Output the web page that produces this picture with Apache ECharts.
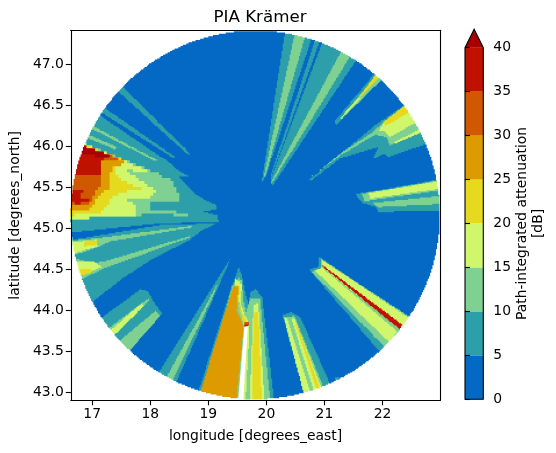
<!DOCTYPE html>
<html>
<head>
<meta charset="utf-8">
<style>html,body{margin:0;background:#fff}#main{width:556px;height:453px}</style>
<script src="https://cdn.jsdelivr.net/npm/echarts@6/dist/echarts.min.js"></script>
</head>
<body>
<div id="main"></div>
<script>
// radar coverage, degrees
const radarLon = 19.808, radarLat = 45.162
const radiusLon = 3.18, radiusLat = 2.245

const lonTicks = [17,18,19,20,21,22]
const latTicks = [43,43.5,44,44.5,45,45.5,46,46.5,47]
const levels = [0,5,10,15,20,25,30,35,40]

// outlines of the attenuation areas, [lon,lat], each level painted over the one before
const pia5 = [
  [[17.34,46.74],[17.42,46.79],[18.70,45.90],[18.66,45.89]],
  [[17.07,46.54],[17.01,46.48],[18.40,45.85],[18.43,45.87]],
  [[16.94,46.47],[18.17,45.87],[18.30,45.82],[18.43,45.73],[18.66,45.63],[18.49,45.63],[18.75,45.43],[18.92,45.35],[19.15,45.28],[19.15,45.23],[18.92,45.20],[19.15,45.16],[19.18,45.08],[18.17,45.06],[16.80,44.96],[16.45,44.93],[16.45,46.20]],
  [[16.45,44.86],[16.66,44.86],[18.17,45.04],[19.15,45.06],[18.86,44.96],[18.69,44.86],[18.00,44.61],[17.49,44.37],[17.06,44.13],[16.63,43.88],[16.45,43.88]],
  [[17.06,43.86],[17.83,44.26],[17.96,44.23],[18.09,44.07],[18.20,43.96],[17.62,43.49],[16.97,43.58]],
  [[19.37,44.62],[19.34,44.55],[18.43,43.09],[18.11,43.21]],
  [[19.52,44.53],[19.58,44.42],[19.64,44.19],[19.69,44.07],[19.72,44.21],[19.81,44.27],[19.93,44.15],[20.14,42.87],[18.79,42.93],[19.41,44.31],[19.46,44.40]],
  [[20.28,43.94],[20.41,43.98],[20.58,43.92],[21.13,43.05],[20.69,42.91]],
  [[21.18,43.19],[21.25,43.19],[21.30,43.09],[21.20,43.09]],
  [[20.91,44.65],[20.96,44.63],[22.47,43.89],[21.99,43.48],[21.89,43.55],[20.74,44.50],[20.89,44.53]],
  [[20.74,45.59],[21.87,46.26],[22.39,46.51],[22.56,46.56],[22.94,46.07],[22.10,45.87],[22.04,45.91],[21.83,45.84],[21.93,45.99],[21.27,45.85],[20.77,45.58]],
  [[21.18,46.31],[21.91,46.93],[22.04,46.85],[21.20,46.26]],
  [[21.53,45.42],[21.75,45.44],[23.08,45.61],[23.08,45.21],[21.93,45.20],[21.89,45.26],[21.65,45.31]],
  [[20.33,47.44],[20.81,47.37],[19.98,45.61],[19.92,45.57]],
  [[20.86,47.34],[20.94,47.32],[20.08,45.61],[20.07,45.64]],
  [[20.99,47.32],[21.61,47.11],[20.10,45.51],[20.07,45.59]]
]
const pia10 = [
  [[16.89,46.29],[18.11,45.83],[18.08,45.82],[16.87,46.26]],
  [[16.80,46.18],[17.42,45.99],[17.40,45.96],[16.78,46.14]],
  [[16.73,46.07],[17.60,45.81],[18.00,45.70],[18.40,45.57],[18.45,45.47],[18.52,45.38],[18.49,45.31],[18.03,45.31],[17.99,45.22],[18.43,45.20],[18.78,45.13],[18.35,45.17],[17.75,45.16],[17.06,45.13],[16.45,45.10],[16.45,45.95]],
  [[16.45,44.83],[16.66,44.85],[17.09,44.88],[18.72,45.03],[18.72,45.01],[17.31,44.84],[17.14,44.78],[16.68,44.67],[16.45,44.64]],
  [[16.49,44.64],[16.71,44.63],[16.97,44.58],[17.17,44.59],[18.69,44.91],[18.68,44.89],[17.17,44.50],[16.86,44.39],[16.54,44.31]],
  [[17.42,43.60],[18.09,44.00],[18.17,43.93],[17.61,43.48]],
  [[17.23,43.76],[17.97,44.15],[17.99,44.12],[17.31,43.68]],
  [[19.17,44.34],[19.16,44.30],[18.35,43.09],[18.24,43.14]],
  [[19.52,44.40],[19.58,44.35],[19.60,44.13],[19.65,43.98],[19.72,44.15],[19.89,44.15],[20.07,42.87],[18.88,42.87],[19.41,44.30]],
  [[20.30,43.92],[20.48,43.93],[21.00,43.03],[20.67,42.93]],
  [[20.94,44.62],[22.46,43.92],[22.06,43.54],[20.78,44.47],[20.93,44.52]],
  [[20.78,45.63],[21.27,45.91],[21.84,46.18],[21.99,46.28],[22.47,46.51],[22.78,46.20],[22.13,46.01],[22.07,46.11],[21.87,46.14],[21.27,45.88]],
  [[21.27,46.34],[21.94,46.90],[22.03,46.84],[21.31,46.34]],
  [[21.64,45.42],[21.75,45.43],[23.08,45.60],[23.08,45.47],[21.79,45.34],[21.70,45.32]],
  [[21.84,45.31],[23.08,45.40],[23.08,45.30],[21.92,45.26]],
  [[20.50,47.41],[20.69,47.39],[19.98,45.63],[19.95,45.62]],
  [[21.32,47.20],[21.48,47.13],[20.10,45.55],[20.08,45.57]]
]
const pia15 = [
  [[16.73,46.07],[17.63,45.79],[17.99,45.69],[17.95,45.67],[17.54,45.73],[17.80,45.59],[18.12,45.45],[18.06,45.38],[17.60,45.34],[17.77,45.26],[17.75,45.16],[17.06,45.13],[16.45,45.10],[16.45,45.95]],
  [[16.45,44.82],[16.67,44.83],[17.07,44.86],[17.09,44.78],[16.71,44.70],[16.45,44.66]],
  [[16.49,44.59],[17.03,44.59],[17.17,44.53],[16.83,44.43],[16.49,44.37]],
  [[17.25,43.72],[17.85,44.09],[17.89,44.05],[17.37,43.69]],
  [[19.46,44.39],[19.58,44.31],[19.55,44.09],[19.64,43.92],[19.69,43.86],[19.71,43.80],[19.64,42.87],[19.55,42.87],[19.64,43.81],[19.45,44.32]],
  [[19.78,44.07],[19.86,44.09],[19.97,42.87],[19.71,42.87],[19.76,43.76]],
  [[20.31,43.90],[20.36,43.90],[20.77,42.97],[20.67,42.93]],
  [[20.43,43.91],[20.48,43.91],[20.96,43.03],[20.82,43.01]],
  [[20.84,44.49],[20.96,44.52],[22.25,43.74],[22.12,43.61]],
  [[20.96,44.61],[22.46,43.90],[22.32,43.76],[20.96,44.53]],
  [[21.93,46.18],[22.01,46.28],[22.51,46.49],[22.66,46.32],[22.13,46.11],[22.04,46.18]],
  [[22.19,46.05],[22.73,46.24],[22.73,46.19],[22.22,46.03]],
  [[21.27,46.34],[21.59,46.60],[21.62,46.58],[21.30,46.34]],
  [[21.76,45.43],[23.08,45.59],[23.08,45.49],[21.79,45.36]]
]
const pia20 = [
  [[16.76,46.04],[17.56,45.82],[17.40,45.73],[17.43,45.61],[17.63,45.55],[17.85,45.47],[17.63,45.45],[17.34,45.38],[17.26,45.26],[17.11,45.18],[16.66,45.16],[16.45,45.16],[16.45,45.95]],
  [[16.85,44.84],[17.07,44.86],[17.09,44.80],[16.87,44.78]],
  [[16.80,44.50],[17.00,44.51],[16.97,44.46],[16.83,44.42],[16.63,44.41]],
  [[19.46,44.31],[19.54,44.30],[19.52,44.09],[19.62,43.91],[19.66,43.86],[19.62,43.79],[19.50,44.13]],
  [[19.78,43.97],[19.86,43.98],[19.92,42.87],[19.75,42.87]],
  [[20.50,43.84],[20.52,43.84],[20.92,43.05],[20.87,43.03]],
  [[22.02,46.30],[22.44,46.53],[22.51,46.43],[22.04,46.24]],
  [[21.59,46.60],[21.91,46.90],[21.99,46.87],[21.64,46.60]]
]
const pia25 = [
  [[16.78,46.01],[17.60,45.79],[17.37,45.75],[17.31,45.63],[17.30,45.49],[17.09,45.37],[17.02,45.26],[16.94,45.21],[16.64,45.20],[16.45,45.20],[16.45,45.95]],
  [[19.43,44.30],[19.52,44.29],[19.49,44.00],[19.61,43.80],[19.48,42.87],[18.80,42.87]]
]
const pia30 = [
  [[16.80,46.00],[17.31,45.89],[17.49,45.83],[17.16,45.83],[17.17,45.65],[17.14,45.53],[17.03,45.41],[16.97,45.31],[16.76,45.28],[16.45,45.28],[16.45,45.71]],
  [[19.63,43.86],[19.70,43.86],[19.70,43.83],[19.63,43.83]]
]
const pia35 = [
  [[16.80,46.00],[17.31,45.87],[17.16,45.83],[17.16,45.65],[16.97,45.63],[16.71,45.65],[16.45,45.65]],
  [[16.45,45.47],[16.85,45.46],[16.80,45.38],[16.97,45.33],[16.80,45.30],[16.45,45.32]],
  [[19.63,43.83],[19.70,43.83],[19.70,43.82],[19.67,43.80],[19.63,43.80]],
  [[20.96,44.55],[22.34,43.82],[22.30,43.77],[20.98,44.53]]
]
const pia40 = [
  [[16.80,46.01],[17.11,45.94],[17.35,45.85],[17.09,45.88],[16.76,45.91],[16.63,45.95]]
]
// beam with no data, south of the radar
const noData = [
  [[19.62,43.80],[19.68,43.81],[19.60,42.87],[19.51,42.87]]
]

const classes = [pia5,pia10,pia15,pia20,pia25,pia30,pia35,pia40]
const colors = ['#0369C4','#2C9FAB','#7ED190','#D0F66C','#E6DA1E','#DE9B00','#D05800','#C01000','#A80000']
const black = '#000'
const fontName = 'DejaVu Sans'

const xMin = 16.632, xMax = 22.995, yMin = 42.905, yMax = 47.412

// the storm in the north-west sits on bigger radar cells
const coarse = [pia10[2],pia15[0],pia20[0],pia25[0],pia30[0],pia35[0],pia35[1],pia40[0]]

// outline snapped to the radar grid, so edges come out as steps
function stepped(ring,dx,dy){
  var pts = [], last = null
  ring.forEach((a,i)=>{
    var b = ring[(i+1)%ring.length]
    var n = Math.ceil(Math.max(Math.abs(b[0]-a[0])/dx,Math.abs(b[1]-a[1])/dy))*2
    for(var j=0;j<n;j++){
      var lon = Math.round((a[0]+(b[0]-a[0])*j/n)/dx)*dx
      var lat = Math.round((a[1]+(b[1]-a[1])*j/n)/dy)*dy
      if(last && last[0]!=lon && last[1]!=lat) pts.push([lon,last[1]])
      pts.push([lon,lat])
      last = [lon,lat]
    }
  })
  return pts
}

// white outside the radar circle
function outsideMask(){
  var circle = []
  for(var i=0;i<720;i++){
    var a = -i/720*Math.PI*2
    circle.push([radarLon+radiusLon*Math.cos(a),radarLat+radiusLat*Math.sin(a)])
  }
  var inner = stepped(circle,0.02,0.015)
  var outer = [[xMin-1,inner[0][1]],[xMin-1,yMin-1],[xMax+1,yMin-1],[xMax+1,yMax+1],[xMin-1,yMax+1],[xMin-1,inner[0][1]]]
  return outer.concat(inner,[inner[0]])
}

var shapes = [{ring:[[xMin-1,yMin-1],[xMax+1,yMin-1],[xMax+1,yMax+1],[xMin-1,yMax+1]],fill:colors[0]}]
classes.forEach((list,i)=>{
  list.forEach((ring)=>{
    var r = coarse.indexOf(ring)>=0 ? stepped(ring,0.05,0.036) : stepped(ring,0.02,0.015)
    shapes.push({ring:r,fill:colors[i+1]})
  })
})
noData.forEach((ring)=>{ shapes.push({ring:ring,fill:'#fff'}) })
shapes.push({ring:outsideMask(),fill:'#fff'})

var tickStyle = {show:true,length:5,lineStyle:{color:black,width:1.1}}
var labelStyle = {color:black,fontFamily:fontName,fontSize:13.9}
var nameStyle = {color:black,fontFamily:fontName,fontSize:13.9}
var lineStyle = {show:true,lineStyle:{color:black,width:1.1}}

var chart = echarts.init(document.getElementById('main'),null,{renderer:'canvas'})
chart.setOption({
  animation:false,
  title:{
    text:'PIA Krämer',left:255,top:4,textAlign:'center',
    textStyle:{color:black,fontFamily:fontName,fontSize:16.7,fontWeight:'normal'}
  },
  grid:[
    {left:70.3,top:30.3,width:370,height:370},
    {left:465,top:47.7,width:18.3,height:351.6}
  ],
  xAxis:[
    {
      gridIndex:0,type:'value',min:xMin,max:xMax,z:5,
      name:'longitude [degrees_east]',nameLocation:'middle',nameGap:29,nameTextStyle:nameStyle,
      axisLine:lineStyle,splitLine:{show:false},
      axisTick:Object.assign({customValues:lonTicks},tickStyle),
      axisLabel:Object.assign({customValues:lonTicks,margin:7,formatter:(v)=>String(v)},labelStyle)
    },
    {gridIndex:0,type:'value',position:'top',min:xMin,max:xMax,z:5,axisLine:lineStyle,axisTick:{show:false},axisLabel:{show:false},splitLine:{show:false}},
    {gridIndex:1,type:'value',min:0,max:1,show:false}
  ],
  yAxis:[
    {
      gridIndex:0,type:'value',min:yMin,max:yMax,z:5,
      name:'latitude [degrees_north]',nameLocation:'middle',nameGap:47,nameTextStyle:nameStyle,
      axisLine:lineStyle,splitLine:{show:false},
      axisTick:Object.assign({customValues:latTicks},tickStyle),
      axisLabel:Object.assign({customValues:latTicks,margin:7,formatter:(v)=>v.toFixed(1)},labelStyle)
    },
    {gridIndex:0,type:'value',position:'right',min:yMin,max:yMax,z:5,axisLine:lineStyle,axisTick:{show:false},axisLabel:{show:false},splitLine:{show:false}},
    {
      gridIndex:1,type:'value',position:'right',min:0,max:40,interval:5,z:5,
      name:'Path-integrated attenuation\n[dB]',nameLocation:'middle',nameRotate:90,nameGap:31,
      nameTextStyle:Object.assign({lineHeight:16},nameStyle),
      axisLine:{show:false},splitLine:{show:false},axisTick:tickStyle,
      axisLabel:Object.assign({margin:10},labelStyle)
    }
  ],
  series:[
    {
      type:'custom',coordinateSystem:'cartesian2d',xAxisIndex:0,yAxisIndex:0,z:1,clip:true,silent:true,
      data:shapes.map((s,i)=>[i]),
      encode:{x:0},
      renderItem:(params,api)=>{
        var s = shapes[api.value(0)]
        return {type:'polygon',shape:{points:s.ring.map((p)=>api.coord(p))},style:{fill:s.fill}}
      }
    },
    {
      // colorbar segments
      type:'custom',coordinateSystem:'cartesian2d',xAxisIndex:2,yAxisIndex:2,z:1,silent:true,
      data:colors.slice(0,8).map((c,i)=>[i]),
      encode:{x:0},
      renderItem:(params,api)=>{
        var i = api.value(0)
        var pts = [[0,levels[i]],[1,levels[i]],[1,levels[i+1]],[0,levels[i+1]]].map((p)=>api.coord(p))
        return {type:'polygon',shape:{points:pts},style:{fill:colors[i]}}
      }
    },
    {
      // over-range arrow and outline
      type:'custom',coordinateSystem:'cartesian2d',xAxisIndex:2,yAxisIndex:2,z:2,silent:true,
      data:[[0]],
      encode:{x:0},
      renderItem:(params,api)=>{
        var tip = levels[8]+2.1
        return {type:'group',children:[
          {type:'polygon',shape:{points:[[0,levels[8]],[1,levels[8]],[0.5,tip]].map((p)=>api.coord(p))},style:{fill:colors[8]}},
          {type:'polygon',shape:{points:[[0,levels[0]],[1,levels[0]],[1,levels[8]],[0.5,tip],[0,levels[8]]].map((p)=>api.coord(p))},style:{fill:'none',stroke:black,lineWidth:1.1}}
        ]}
      }
    }
  ]
})
</script>
</body>
</html>
